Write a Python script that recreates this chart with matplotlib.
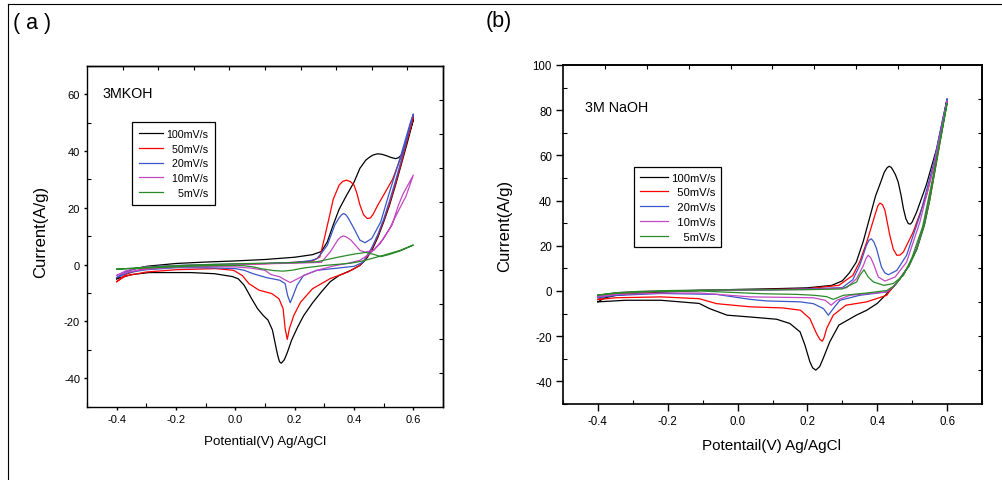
import numpy as np
import matplotlib
matplotlib.use('Agg')
import matplotlib.pyplot as plt
from matplotlib.ticker import MultipleLocator, NullFormatter
from matplotlib.lines import Line2D

plt.rcParams['font.family'] = ['Liberation Sans', 'DejaVu Sans']
plt.rcParams['axes.unicode_minus'] = False

# ---------------- data ----------------
scan_labels = ['100mV/s', '50mV/s', '20mV/s', '10mV/s', '5mV/s']
colors = ['#000000', '#ff0000', '#3a56c8', '#c348c3', '#2a8a2a']

# Panel (a) 3M KOH : (potential V, current A/g)
a100_fwd = [(-0.40, -5.0), (-0.38, -3.2), (-0.35, -1.8), (-0.30, -0.6), (-0.20, 0.4), (-0.10, 0.9), (0.00, 1.3),
            (0.10, 1.8), (0.20, 2.6), (0.26, 3.5), (0.29, 4.6), (0.31, 8.0), (0.33, 14.0), (0.35, 19.5),
            (0.375, 24.4), (0.40, 29.0), (0.42, 33.9), (0.44, 36.8), (0.455, 38.0), (0.465, 38.6), (0.48, 39.0),
            (0.495, 38.8), (0.51, 38.3), (0.525, 37.7), (0.54, 37.3), (0.55, 37.6), (0.56, 38.6), (0.57, 41.0),
            (0.585, 46.0), (0.60, 51.0)]
a100_rev = [(0.60, 51.0), (0.58, 43.0), (0.56, 35.5), (0.54, 28.0), (0.52, 21.0), (0.50, 15.0), (0.48, 9.5),
            (0.46, 5.0), (0.44, 1.8), (0.42, -0.3), (0.39, -2.0), (0.35, -3.8), (0.32, -6.0), (0.29, -9.6),
            (0.26, -13.5), (0.23, -18.0), (0.21, -22.0), (0.19, -26.5), (0.175, -31.0), (0.165, -33.5),
            (0.155, -34.7), (0.149, -34.2), (0.143, -32.0), (0.138, -29.6), (0.125, -23.0), (0.11, -19.5),
            (0.095, -18.0), (0.075, -15.5), (0.055, -12.0), (0.03, -7.3), (0.01, -5.0), (-0.01, -4.2),
            (-0.07, -3.2), (-0.15, -2.8), (-0.29, -2.8), (-0.35, -3.5), (-0.40, -5.0)]
a50_fwd = [(-0.40, -6.0), (-0.37, -3.5), (-0.33, -2.0), (-0.30, -1.3), (-0.20, -0.6), (-0.10, -0.3), (0.00, 0.0),
           (0.10, 0.3), (0.20, 0.8), (0.26, 1.3), (0.285, 2.7), (0.30, 9.2), (0.315, 16.0), (0.33, 23.0),
           (0.35, 28.0), (0.362, 29.3), (0.375, 29.7), (0.388, 29.2), (0.40, 28.0), (0.41, 25.0), (0.42, 21.0),
           (0.432, 17.6), (0.445, 16.2), (0.455, 16.4), (0.465, 17.8), (0.48, 20.9), (0.50, 24.5), (0.53, 30.0),
           (0.565, 39.7), (0.59, 48.0), (0.60, 52.0)]
a50_rev = [(0.60, 52.0), (0.58, 44.0), (0.56, 36.0), (0.54, 28.5), (0.52, 21.5), (0.50, 15.5), (0.48, 10.0),
           (0.46, 5.5), (0.44, 2.2), (0.42, -0.2), (0.38, -2.6), (0.32, -4.9), (0.26, -8.5), (0.22, -13.2),
           (0.197, -17.9), (0.182, -22.6), (0.175, -26.3), (0.168, -22.6), (0.161, -15.5), (0.147, -12.0),
           (0.123, -10.2), (0.08, -9.0), (0.046, -6.7), (0.023, -3.8), (-0.006, -2.0), (-0.066, -1.4),
           (-0.10, -1.5), (-0.20, -1.8), (-0.30, -2.6), (-0.37, -4.0), (-0.40, -6.0)]
a20_fwd = [(-0.40, -4.6), (-0.37, -2.5), (-0.33, -1.2), (-0.30, -0.8), (-0.20, -0.3), (-0.10, 0.0), (0.00, 0.2),
           (0.10, 0.4), (0.20, 0.8), (0.25, 1.3), (0.275, 2.1), (0.29, 4.0), (0.31, 6.8), (0.335, 13.9),
           (0.35, 16.5), (0.358, 17.5), (0.365, 18.0), (0.372, 17.6), (0.38, 16.5), (0.40, 12.7), (0.42, 8.6),
           (0.437, 7.7), (0.46, 9.2), (0.49, 15.0), (0.52, 25.6), (0.555, 37.4), (0.59, 50.0), (0.60, 53.0)]
a20_rev = [(0.60, 53.0), (0.58, 45.0), (0.56, 37.0), (0.54, 29.5), (0.52, 22.5), (0.50, 16.0), (0.48, 10.5),
           (0.46, 6.0), (0.44, 2.5), (0.43, 0.8), (0.40, -0.6), (0.33, -1.4), (0.275, -2.0), (0.23, -3.8),
           (0.208, -7.3), (0.193, -11.4), (0.185, -13.4), (0.176, -10.8), (0.168, -6.7), (0.15, -5.5),
           (0.106, -4.6), (0.06, -3.2), (0.03, -2.0), (0.00, -1.4), (-0.10, -1.1), (-0.20, -1.1), (-0.30, -1.8),
           (-0.36, -2.8), (-0.40, -4.6)]
a10_fwd = [(-0.40, -3.8), (-0.37, -2.2), (-0.33, -1.2), (-0.30, -0.8), (-0.20, -0.4), (-0.10, -0.1), (0.00, 0.1),
           (0.10, 0.3), (0.20, 0.5), (0.29, 0.8), (0.32, 4.5), (0.345, 8.6), (0.355, 9.7), (0.365, 10.1),
           (0.375, 9.7), (0.39, 8.6), (0.42, 5.0), (0.437, 4.4), (0.466, 5.0), (0.50, 9.2), (0.528, 13.9),
           (0.55, 21.0), (0.566, 25.0), (0.60, 31.5)]
a10_rev = [(0.60, 31.5), (0.575, 24.0), (0.555, 20.0), (0.52, 12.7), (0.488, 7.4), (0.454, 3.9), (0.42, 1.5),
           (0.376, 0.4), (0.33, -0.5), (0.275, -2.0), (0.232, -3.8), (0.20, -5.5), (0.185, -6.3), (0.17, -5.5),
           (0.15, -4.3), (0.12, -3.5), (0.10, -2.0), (0.05, -1.2), (0.00, -0.8), (-0.10, -0.7), (-0.20, -0.9),
           (-0.30, -1.6), (-0.36, -2.5), (-0.40, -3.8)]
a5_fwd = [(-0.40, -1.6), (-0.30, -0.9), (-0.20, -0.4), (-0.10, 0.0), (0.00, 0.3), (0.10, 0.5), (0.20, 0.7),
          (0.275, 1.0), (0.35, 2.7), (0.40, 3.7), (0.44, 4.3), (0.47, 3.5), (0.49, 2.8), (0.52, 3.6),
          (0.56, 5.0), (0.60, 6.9)]
a5_rev = [(0.60, 6.9), (0.555, 5.0), (0.50, 3.3), (0.43, 1.3), (0.39, 0.5), (0.30, -0.3), (0.23, -1.2),
          (0.19, -2.0), (0.16, -2.3), (0.13, -2.1), (0.09, -1.5), (0.06, -0.8), (0.03, -0.4), (0.00, -0.3),
          (-0.10, -0.4), (-0.20, -0.8), (-0.30, -1.2), (-0.40, -1.6)]

# Panel (b) 3M NaOH
b100_fwd = [(-0.40, -4.8), (-0.38, -3.0), (-0.35, -2.0), (-0.30, -1.2), (-0.20, -0.4), (-0.10, 0.3), (0.00, 0.7),
            (0.10, 1.0), (0.20, 1.4), (0.27, 2.5), (0.30, 4.5), (0.32, 8.0), (0.34, 12.8), (0.36, 22.0),
            (0.38, 33.4), (0.395, 42.0), (0.41, 48.2), (0.42, 52.5), (0.428, 54.5), (0.434, 55.2), (0.44, 54.7),
            (0.445, 53.5), (0.452, 51.5), (0.46, 48.2), (0.468, 42.5), (0.475, 36.4), (0.482, 32.0),
            (0.489, 29.8), (0.495, 29.6), (0.50, 30.5), (0.513, 35.0), (0.54, 46.7), (0.57, 62.9), (0.60, 85.0)]
b100_rev = [(0.60, 85.0), (0.59, 76.0), (0.575, 63.0), (0.55, 41.0), (0.535, 30.0), (0.513, 18.7), (0.49, 11.0),
            (0.465, 5.5), (0.45, 2.5), (0.437, 0.3), (0.40, -5.5), (0.37, -8.5), (0.34, -10.7), (0.29, -15.1),
            (0.264, -22.5), (0.245, -29.9), (0.235, -33.5), (0.224, -35.0), (0.215, -34.0), (0.207, -31.3),
            (0.193, -24.0), (0.179, -18.1), (0.15, -14.4), (0.112, -12.5), (0.036, -11.5), (-0.03, -10.7),
            (-0.08, -7.8), (-0.11, -5.5), (-0.22, -4.1), (-0.32, -4.1), (-0.40, -4.8)]
b50_fwd = [(-0.40, -3.8), (-0.38, -2.2), (-0.35, -1.3), (-0.30, -0.7), (-0.20, -0.1), (-0.10, 0.3), (0.00, 0.5),
           (0.10, 0.7), (0.20, 1.0), (0.29, 2.5), (0.33, 6.9), (0.35, 13.0), (0.37, 21.7), (0.393, 33.4),
           (0.402, 37.8), (0.408, 38.9), (0.415, 38.2), (0.422, 35.7), (0.436, 24.6), (0.446, 18.5),
           (0.456, 15.8), (0.465, 15.9), (0.475, 17.3), (0.503, 26.1), (0.541, 42.3), (0.57, 60.0), (0.60, 84.0)]
b50_rev = [(0.60, 84.0), (0.59, 75.0), (0.575, 62.0), (0.55, 40.0), (0.535, 29.5), (0.513, 18.5), (0.49, 11.0),
           (0.465, 5.5), (0.45, 2.5), (0.437, 0.3), (0.427, -1.9), (0.37, -4.8), (0.31, -6.3), (0.274, -10.7),
           (0.255, -16.6), (0.248, -20.5), (0.243, -22.2), (0.236, -21.5), (0.226, -18.8), (0.207, -12.2),
           (0.18, -8.5), (0.13, -7.5), (0.036, -7.0), (-0.06, -5.6), (-0.11, -3.4), (-0.22, -2.6), (-0.35, -3.0),
           (-0.40, -3.8)]
b20_fwd = [(-0.40, -3.0), (-0.38, -1.8), (-0.35, -1.0), (-0.30, -0.5), (-0.20, 0.0), (-0.10, 0.3), (0.00, 0.4),
           (0.10, 0.6), (0.20, 0.9), (0.30, 1.5), (0.33, 5.0), (0.35, 11.4), (0.369, 20.2), (0.376, 22.4),
           (0.383, 23.1), (0.39, 21.8), (0.398, 18.7), (0.412, 10.6), (0.422, 8.0), (0.432, 7.2), (0.456, 9.1),
           (0.484, 15.8), (0.522, 33.4), (0.56, 55.5), (0.60, 85.0)]
b20_rev = [(0.60, 85.0), (0.59, 76.0), (0.575, 63.0), (0.55, 41.0), (0.535, 30.0), (0.513, 18.7), (0.49, 11.0),
           (0.465, 5.5), (0.45, 2.5), (0.427, -0.4), (0.35, -1.9), (0.293, -4.1), (0.274, -7.8), (0.26, -10.7),
           (0.246, -7.8), (0.217, -5.6), (0.179, -4.8), (0.083, -4.4), (0.036, -3.7), (-0.012, -2.6),
           (-0.06, -1.5), (-0.22, -1.1), (-0.35, -2.0), (-0.40, -3.0)]
b10_fwd = [(-0.40, -2.5), (-0.38, -1.5), (-0.35, -0.8), (-0.30, -0.3), (-0.20, 0.1), (-0.10, 0.3), (0.00, 0.4),
           (0.10, 0.5), (0.20, 0.7), (0.312, 1.4), (0.341, 5.5), (0.36, 11.2), (0.368, 14.5), (0.374, 15.8),
           (0.381, 14.8), (0.389, 12.1), (0.403, 6.2), (0.422, 4.4), (0.451, 6.2), (0.484, 12.8), (0.522, 30.5),
           (0.56, 54.0), (0.60, 84.0)]
b10_rev = [(0.60, 84.0), (0.59, 75.0), (0.575, 62.0), (0.55, 40.5), (0.535, 29.5), (0.513, 18.5), (0.49, 11.0),
           (0.465, 5.5), (0.45, 2.5), (0.427, -0.4), (0.322, -1.9), (0.284, -4.1), (0.268, -6.3), (0.251, -4.1),
           (0.217, -3.0), (0.131, -2.8), (0.036, -2.6), (-0.108, -0.9), (-0.22, -0.9), (-0.35, -1.6),
           (-0.40, -2.5)]
b5_fwd = [(-0.40, -1.8), (-0.35, -0.8), (-0.30, -0.3), (-0.20, 0.2), (-0.10, 0.4), (0.00, 0.5), (0.10, 0.5),
          (0.20, 0.6), (0.30, 0.9), (0.341, 4.0), (0.35, 6.9), (0.362, 9.4), (0.374, 6.2), (0.389, 4.0),
          (0.419, 2.5), (0.446, 3.3), (0.475, 6.9), (0.50, 15.0), (0.53, 28.5), (0.565, 54.5), (0.60, 83.0)]
b5_rev = [(0.60, 83.0), (0.59, 74.5), (0.575, 61.5), (0.55, 40.0), (0.535, 29.0), (0.513, 18.3), (0.49, 10.8),
          (0.465, 5.3), (0.45, 2.4), (0.427, 0.2), (0.369, -0.9), (0.303, -1.9), (0.274, -3.7), (0.255, -2.5),
          (0.22, -1.9), (0.17, -1.5), (0.07, -1.2), (-0.108, 0.0), (-0.25, -0.3), (-0.35, -1.0), (-0.40, -1.8)]

xticks = [-0.4, -0.2, 0.0, 0.2, 0.4, 0.6]
yticks_a = [-40, -20, 0, 20, 40, 60]
yticks_b = [-40, -20, 0, 20, 40, 60, 80, 100]

curves_a = [(a100_fwd, a100_rev), (a50_fwd, a50_rev), (a20_fwd, a20_rev), (a10_fwd, a10_rev), (a5_fwd, a5_rev)]
curves_b = [(b100_fwd, b100_rev), (b50_fwd, b50_rev), (b20_fwd, b20_rev), (b10_fwd, b10_rev), (b5_fwd, b5_rev)]

# ---------------- figure ----------------
fig = plt.figure(figsize=(10.02, 4.81), dpi=100)
axa = fig.add_axes([87 / 1002, 1 - 407.7 / 481, 356 / 1002, 341 / 481])
axb = fig.add_axes([563 / 1002, 1 - 405 / 481, 419 / 1002, 339 / 481])


def pad_label(lab, longest):
    return ' ' * (2 * (len(longest) - len(lab))) + lab


longest = max(scan_labels, key=len)
for ax, curves in ((axa, curves_a), (axb, curves_b)):
    for (fwd, rev), col, lab in zip(curves, colors, scan_labels):
        pts = fwd + rev[1:]
        v = [p[0] for p in pts]
        i = [p[1] for p in pts]
        ax.plot(v, i, color=col, lw=0.9, label=pad_label(lab, longest), solid_joinstyle='round')


def style(ax, ylim, yticks, major_len, major_dir, spine_lw, tick_fs):
    ax.set_xlim(-0.5, 0.7)
    ax.set_ylim(*ylim)
    ax.set_xticks(xticks)
    ax.set_xticklabels(['%.1f' % t for t in xticks])
    ax.set_yticks(yticks)
    ax.set_yticklabels(['%d' % t for t in yticks])
    ax.xaxis.set_minor_locator(MultipleLocator(0.1))
    ax.yaxis.set_minor_locator(MultipleLocator(10))
    ax.tick_params(which='major', direction=major_dir, length=major_len, width=1.0,
                   labelsize=tick_fs, top=False, right=False, pad=3)
    ax.tick_params(which='minor', direction='in', length=3, width=0.8, top=False, right=False)
    for s in ax.spines.values():
        s.set_linewidth(spine_lw)
    sx = ax.secondary_xaxis('top')
    sx.set_xticks(np.linspace(-0.5, 0.7, 11)[1:-1])
    sx.xaxis.set_major_formatter(NullFormatter())
    sx.tick_params(direction='in', length=3, width=0.8)
    sx.spines['top'].set_linewidth(spine_lw)
    sy = ax.secondary_yaxis('right')
    sy.set_yticks(np.linspace(ylim[0], ylim[1], 11)[1:-1])
    sy.yaxis.set_major_formatter(NullFormatter())
    sy.tick_params(direction='in', length=3, width=0.8)
    sy.spines['right'].set_linewidth(spine_lw)


style(axa, (-50, 70), yticks_a, 2, 'out', 1.0, 8)
style(axb, (-50, 100), yticks_b, 5, 'out', 1.2, 8.3)

# legends
lga = axa.legend(loc='upper left', bbox_to_anchor=(132 / 1002, 1 - 123 / 481), bbox_transform=fig.transFigure,
                 fontsize=7.7, fancybox=False, edgecolor='black', framealpha=1, borderpad=0.65,
                 handlelength=2.25, handletextpad=0.3, labelspacing=0.44, borderaxespad=0)
lga.get_frame().set_linewidth(0.9)
lgb = axb.legend(loc='upper left', bbox_to_anchor=(634 / 1002, 1 - 168 / 481), bbox_transform=fig.transFigure,
                 fontsize=8.1, fancybox=False, edgecolor='black', framealpha=1, borderpad=0.5,
                 handlelength=2.5, handletextpad=0.3, labelspacing=0.42, borderaxespad=0)
lgb.get_frame().set_linewidth(0.9)

# texts
fig.text(13 / 1002, 1 - 23 / 481, '( a )', fontsize=15.5, va='center', ha='left')
fig.text(486 / 1002, 1 - 21.5 / 481, '(b)', fontsize=15.5, va='center', ha='left')
fig.text(102 / 1002, 1 - 94 / 481, '3MKOH', fontsize=10.3, va='center', ha='left')
fig.text(585 / 1002, 1 - 108 / 481, '3M NaOH', fontsize=10.3, va='center', ha='left')
fig.text(41 / 1002, 1 - 232 / 481, 'Current(A/g)', fontsize=12, rotation=90, va='center', ha='center')
fig.text(505 / 1002, 1 - 226 / 481, 'Current(A/g)', fontsize=12, rotation=90, va='center', ha='center')
fig.text(265 / 1002, 1 - 442 / 481, 'Potential(V) Ag/AgCl', fontsize=9.6, va='center', ha='center')
fig.text(772 / 1002, 1 - 446 / 481, 'Potentail(V) Ag/AgCl', fontsize=11, va='center', ha='center')

# page frame lines
fig.add_artist(Line2D([8 / 1002, 1.0], [1 - 4.5 / 481, 1 - 4.5 / 481], transform=fig.transFigure,
                      color='black', lw=0.8))
fig.add_artist(Line2D([8 / 1002, 8 / 1002], [0.0, 1 - 4.5 / 481], transform=fig.transFigure,
                      color='black', lw=0.8))

fig.savefig('out.png', dpi=100)
